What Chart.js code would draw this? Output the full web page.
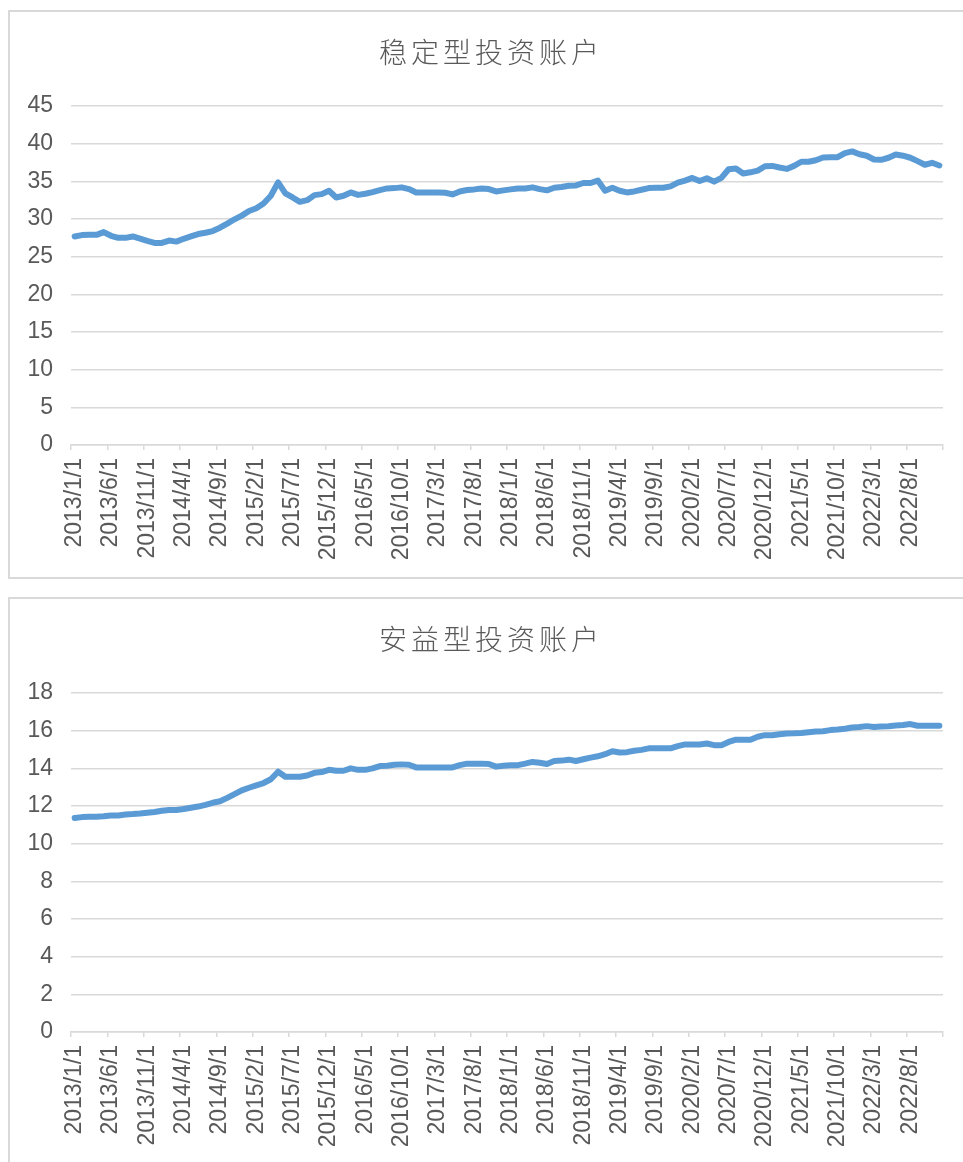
<!DOCTYPE html>
<html>
<head>
<meta charset="utf-8">
<script src="https://cdn.jsdelivr.net/npm/chart.js@4/dist/chart.umd.min.js"></script>
<style>
  html, body { margin: 0; padding: 0; overflow: hidden; background: #fff; }
  .box { position: absolute; left: 8px; border: 2px solid #d9d9d9; width: 958px; height: 565px; }
  .box canvas { display: block; }
</style>
</head>
<body>
<div class="box" style="top:10px"><canvas id="graficoEstavel" width="958" height="565"></canvas></div>
<div class="box" style="top:597px"><canvas id="graficoSeguro" width="958" height="565"></canvas></div>
<script>
// 月度数据 2013/1 - 2022/12
const meses = [];
for (let a = 2013; a <= 2022; a++) {
    for (let m = 1; m <= 12; m++) meses.push(`${a}/${m}/1`);
}

const tituloEstavel = '稳定型投资账户';
const tituloSeguro = '安益型投资账户';

const valoresEstavel = [
    27.68, 27.86, 27.9, 27.9, 28.26, 27.77, 27.5, 27.5, 27.68, 27.4,
    27.1, 26.83, 26.83, 27.14, 27.0, 27.37, 27.68, 28.0, 28.17, 28.4,
    28.84, 29.38, 29.96, 30.45, 31.07, 31.43, 32.05, 33.08, 34.87, 33.4,
    32.86, 32.28, 32.5, 33.17, 33.3, 33.75, 32.86, 33.08, 33.53, 33.2,
    33.35, 33.57, 33.84, 34.06, 34.1, 34.2, 33.97, 33.53, 33.53, 33.53,
    33.53, 33.48, 33.26, 33.66, 33.84, 33.93, 34.06, 33.97, 33.66, 33.8,
    33.93, 34.06, 34.06, 34.2, 33.97, 33.8, 34.15, 34.24, 34.42, 34.46,
    34.78, 34.78, 35.1, 33.75, 34.15, 33.75, 33.53, 33.66, 33.88, 34.1,
    34.15, 34.15, 34.33, 34.82, 35.1, 35.45, 35.04, 35.4, 34.96, 35.45,
    36.6, 36.7, 36.03, 36.2, 36.43, 37.0, 37.05, 36.83, 36.65, 37.05,
    37.6, 37.6, 37.8, 38.17, 38.2, 38.2, 38.75, 38.97, 38.6, 38.4,
    37.9, 37.86, 38.13, 38.57, 38.4, 38.13, 37.68, 37.2, 37.46, 37.1
];

const valoresSeguro = [
    11.36, 11.41, 11.43, 11.43, 11.46, 11.5, 11.5, 11.55, 11.57, 11.6,
    11.64, 11.68, 11.75, 11.79, 11.79, 11.84, 11.91, 11.97, 12.06, 12.17,
    12.25, 12.43, 12.63, 12.83, 12.97, 13.1, 13.22, 13.42, 13.82, 13.55,
    13.55, 13.55, 13.62, 13.76, 13.8, 13.92, 13.87, 13.87, 14.0, 13.92,
    13.92, 14.0, 14.12, 14.14, 14.19, 14.21, 14.19, 14.05, 14.05, 14.05,
    14.05, 14.05, 14.05, 14.17, 14.25, 14.25, 14.25, 14.23, 14.09, 14.14,
    14.16, 14.17, 14.25, 14.34, 14.3, 14.23, 14.39, 14.41, 14.46, 14.39,
    14.48, 14.57, 14.64, 14.75, 14.91, 14.84, 14.86, 14.93, 14.98, 15.06,
    15.06, 15.06, 15.06, 15.18, 15.27, 15.27, 15.27, 15.32, 15.23, 15.23,
    15.4, 15.52, 15.52, 15.52, 15.68, 15.76, 15.76, 15.81, 15.85, 15.86,
    15.88, 15.92, 15.95, 15.97, 16.03, 16.06, 16.1, 16.17, 16.19, 16.24,
    16.19, 16.22, 16.24, 16.28, 16.3, 16.35, 16.26, 16.26, 16.26, 16.26
];

const eixoEstavel = { max: 45, passo: 5 };
const eixoSeguro = { max: 18, passo: 2 };

const cinza = '#d9d9d9';
const texto = '#595959';
const fonteNum = { family: '"Liberation Sans", Arial, sans-serif', size: 23 };

// título com espaçamento entre letras (estilo Excel)
const tituloPlugin = {
    id: 'tituloEspacado',
    afterDraw(chart, args, opts) {
        const ctx = chart.ctx;
        ctx.save();
        ctx.font = '300 28px "Noto Sans CJK SC", sans-serif';
        ctx.fillStyle = texto;
        ctx.textAlign = 'center';
        ctx.textBaseline = 'middle';
        ctx.letterSpacing = '4px';
        ctx.fillText(opts.text, chart.width / 2 + 2, 40);
        ctx.restore();
    }
};

function criarGrafico(id, titulo, valores, eixo) {
    const ctx = document.getElementById(id).getContext('2d');
    new Chart(ctx, {
        type: 'line',
        data: {
            labels: meses,
            datasets: [{
                data: valores,
                borderColor: '#5b9bd5',
                borderWidth: 6,
                pointRadius: 0,
                tension: 0,
                borderCapStyle: 'round',
                borderJoinStyle: 'round'
            }]
        },
        options: {
            responsive: false,
            animation: false,
            layout: { padding: { top: 94, right: 25, left: 0, bottom: 0 } },
            plugins: {
                legend: { display: false },
                tooltip: { enabled: false },
                tituloEspacado: { text: titulo }
            },
            scales: {
                x: {
                    offset: true,
                    afterFit: s => {
                        s.height = 132;
                        s.paddingLeft = 0;
                        s.paddingRight = 0;
                    },
                    grid: {
                        offset: true,
                        drawOnChartArea: false,
                        tickLength: 5,
                        lineWidth: 1.5,
                        color: c => (c.index === undefined || c.index % 5 === 0) ? cinza : 'rgba(0,0,0,0)'
                    },
                    border: { display: true, color: cinza, width: 1.5 },
                    ticks: {
                        autoSkip: false,
                        minRotation: 90,
                        maxRotation: 90,
                        padding: 8,
                        color: texto,
                        font: fonteNum,
                        callback: (v, i) => i % 5 === 0 ? meses[i] : ''
                    }
                },
                y: {
                    min: 0,
                    max: eixo.max,
                    afterFit: s => {
                        s.width = 61;
                        s.paddingTop = 0;
                        s.paddingBottom = 0;
                    },
                    grid: { color: cinza, lineWidth: 1.5, drawTicks: false },
                    border: { display: false },
                    ticks: {
                        stepSize: eixo.passo,
                        padding: 18,
                        color: texto,
                        font: fonteNum
                    }
                }
            }
        },
        plugins: [tituloPlugin]
    });
}

criarGrafico('graficoEstavel', tituloEstavel, valoresEstavel, eixoEstavel);
criarGrafico('graficoSeguro', tituloSeguro, valoresSeguro, eixoSeguro);
</script>
</body>
</html>
